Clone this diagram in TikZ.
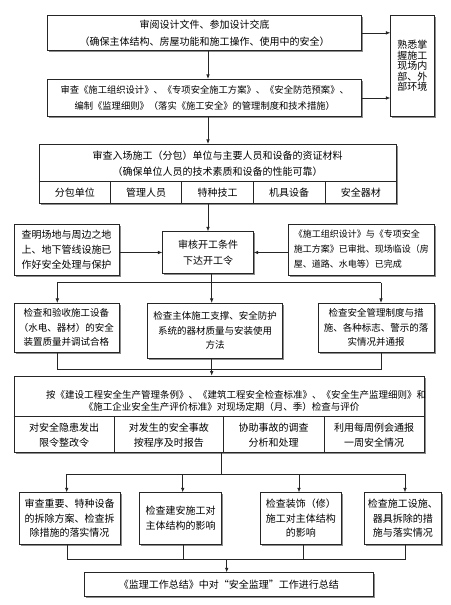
\documentclass[tikz,border=0pt]{standalone}
\usepackage{fontspec}
\newfontfamily\cjk{Noto Sans CJK SC}
\usetikzlibrary{shadows,arrows.meta}
\tikzset{
  box/.style={draw=black!85, line width=0.7pt, fill=white, inner sep=0pt, align=center,
    font=\cjk\fontsize{10}{15}\selectfont,
    drop shadow={shadow xshift=1.6pt, shadow yshift=-1.6pt, fill=black!45, opacity=1}},
  lbl/.style={inner sep=0pt, align=center, font=\cjk\fontsize{10}{15}\selectfont},
  line/.style={draw=black!85, line width=0.7pt},
  arr/.style={line, -{Latex[length=4.5pt,width=3.6pt]}}
}
\begin{document}
\begin{tikzpicture}[x=1pt,y=-1pt]
\useasboundingbox (0,0) rectangle (450,605);
\fill[white] (0,0) rectangle (450,605);

% row 1-2
\node[box, minimum width=314pt, minimum height=35.7pt, font=\cjk\fontsize{10}{17}\selectfont] (b1) at (204.7,32.85)
  {审阅设计文件、参加设计交底\\（确保主体结构、房屋功能和施工操作、使用中的安全）};
\node[box, minimum width=43.3pt, minimum height=101.7pt, font=\cjk\fontsize{10}{10.5}\selectfont] (env) at (412.35,65.85)
  {熟悉掌\\握施工\\现场内\\部、外\\部环境};
\node[box, minimum width=314pt, minimum height=37.4pt, font=\cjk\fontsize{9.3}{15.7}\selectfont] (b2) at (204.7,98)
  {审查《施工组织设计》、《专项安全施工方案》、《安全防范预案》、\\编制《监理细则》（落实《施工安全》的管理制度和技术措施）};

% row 3
\node[box, minimum width=357.7pt, minimum height=59pt] (b3) at (217.85,173.8) {};
\node[lbl, font=\cjk\fontsize{10}{16}\selectfont] (b3t) at (217.5,163.5)
  {审查入场施工（分包）单位与主要人员和设备的资证材料\\（确保单位人员的技术素质和设备的性能可靠）};
\draw[line] (b3.west |- 0,181.7) -- (b3.east |- 0,181.7);
\draw[line] (110.7,181.7) -- (110.7,181.7 |- b3.south);
\draw[line] (181.7,181.7) -- (181.7,181.7 |- b3.south);
\draw[line] (253.3,181.7) -- (253.3,181.7 |- b3.south);
\draw[line] (325,181.7) -- (325,181.7 |- b3.south);
\node[lbl] (c31) at (74.85,192.5) {分包单位};
\node[lbl] (c32) at (146.2,192.5) {管理人员};
\node[lbl] (c33) at (217.5,192.5) {特种技工};
\node[lbl] (c34) at (289.15,192.5) {机具设备};
\node[lbl] (c35) at (360.85,192.5) {安全器材};

% row 4
\node[box, minimum width=90.6pt, minimum height=41.6pt, font=\cjk\fontsize{10}{16.5}\selectfont] (c4) at (208,252.5)
  {审核开工条件\\下达开工令};
\node[box, minimum width=105pt, minimum height=50.7pt] (l4) at (66.5,249.65)
  {查明场地与周边之地\\上、地下管线设施已\\作好安全处理与保护};
\node[box, minimum width=145.3pt, minimum height=50.7pt, font=\cjk\fontsize{9}{15}\selectfont] (r4) at (361.35,249.65)
  {\begin{tabular}{@{}l@{}}《施工组织设计》与《专项安全\\施工方案》已审批、现场临设（房\\屋、道路、水电等）已完成\end{tabular}};

% row 5
\node[box, minimum width=105pt, minimum height=49pt, font=\cjk\fontsize{9.5}{14.5}\selectfont] (p1) at (66.5,327.8)
  {检查和验收施工设备\\（水电、器材）的安全\\装置质量并调试合格};
\node[box, minimum width=135pt, minimum height=54.7pt, font=\cjk\fontsize{9.5}{14.5}\selectfont] (p2) at (215.2,330.65)
  {检查主体施工支撑、安全防护\\系统的器材质量与安装使用\\方法};
\node[box, minimum width=116pt, minimum height=49pt, font=\cjk\fontsize{9.5}{14.5}\selectfont] (p3) at (376,327.8)
  {检查安全管理制度与措\\施、各种标志、警示的落\\实情况并通报};

% row 6
\node[box, minimum width=410.3pt, minimum height=76.3pt] (b6) at (219.15,414.15) {};
\node[lbl, font=\cjk\fontsize{9.5}{12}\selectfont] (b6t1) at (236,395)
  {按《建设工程安全生产管理条例》、《建筑工程安全检查标准》、《安全生产监理细则》和};
\node[lbl, font=\cjk\fontsize{9.5}{12}\selectfont] (b6t2) at (221.5,407)
  {《施工企业安全生产评价标准》对现场定期（月、季）检查与评价};
\draw[line] (b6.west |- 0,416) -- (b6.east |- 0,416);
\draw[line] (114.3,416) -- (114.3,416 |- b6.south);
\draw[line] (223.3,416) -- (223.3,416 |- b6.south);
\draw[line] (324,416) -- (324,416 |- b6.south);
\node[lbl] (c61) at (64.15,435) {对安全隐患发出\\限令整改令};
\node[lbl] (c62) at (168.8,435) {对发生的安全事故\\按程序及时报告};
\node[lbl] (c63) at (273.65,435) {协助事故的调查\\分析和处理};
\node[lbl] (c64) at (374.15,435) {利用每周例会通报\\一周安全情况};

% row 7
\node[box, minimum width=101pt, minimum height=51.3pt, font=\cjk\fontsize{10}{14.7}\selectfont] (q1) at (69.5,518.35)
  {审查重要、特种设备\\的拆除方案、检查拆\\除措施的落实情况};
\node[box, minimum width=82.4pt, minimum height=51.3pt, font=\cjk\fontsize{10}{14.7}\selectfont] (q2) at (180.5,518.35)
  {检查建安施工对\\主体结构的影响};
\node[box, minimum width=81.7pt, minimum height=51.3pt, font=\cjk\fontsize{10}{14.7}\selectfont] (q3) at (300.85,518.35)
  {检查装饰（修）\\施工对主体结构\\的影响};
\node[box, minimum width=77.7pt, minimum height=51.3pt, font=\cjk\fontsize{10}{14.7}\selectfont] (q4) at (402.85,518.35)
  {检查施工设施、\\器具拆除的措\\施与落实情况};

% row 8
\node[box, minimum width=289pt, minimum height=24pt] (b7) at (228.8,584.7)
  {《监理工作总结》中对“安全监理”工作进行总结};

% connectors
\draw[arr] (b1.east) -- (b1.east -| env.west);
\draw[arr] (b2.east) -- (b2.east -| env.west);
\draw[arr] (b1.south -| 208,0) -- (b2.north -| 208,0);
\draw[arr] (b2.south -| 208,0) -- (b3.north -| 208,0);
\draw[arr] (b3.south -| c4.north) -- (c4.north);
\draw[arr] (l4.east |- c4.west) -- (c4.west);
\draw[arr] (r4.west |- c4.east) -- (c4.east);

\coordinate (s1) at (211.7,282.7);
\coordinate (s1l) at (57.3,282.7);
\coordinate (s1r) at (381,282.7);
\draw[line] (c4.south -| s1) -- (s1);
\draw[line] (s1l) -- (s1r);
\draw[arr] (s1l) -- (p1.north -| s1l);
\draw[arr] (s1) -- (p2.north -| s1);
\draw[arr] (s1r) -- (p3.north -| s1r);

\coordinate (m1l) at (57.3,369);
\coordinate (m1r) at (381,369);
\draw[line] (p1.south -| m1l) -- (m1l) -- (m1r) -- (p3.south -| m1r);
\draw[arr] (p2.south -| s1) -- (b6.north -| s1);

\coordinate (s2) at (221.7,474.3);
\coordinate (s2l) at (66.7,474.3);
\coordinate (s2b) at (182.7,474.3);
\coordinate (s2c) at (299,474.3);
\coordinate (s2r) at (405,474.3);
\draw[line] (b6.south -| s2) -- (s2);
\draw[line] (s2l) -- (s2r);
\draw[arr] (s2l) -- (q1.north -| s2l);
\draw[arr] (s2b) -- (q2.north -| s2b);
\draw[arr] (s2c) -- (q3.north -| s2c);
\draw[arr] (s2r) -- (q4.north -| s2r);

\coordinate (m2l) at (67.7,559.3);
\coordinate (m2b) at (183.3,559.3);
\coordinate (m2c) at (303.3,559.3);
\coordinate (m2r) at (405,559.3);
\coordinate (m2) at (226.7,559.3);
\draw[line] (q1.south -| m2l) -- (m2l) -- (m2r) -- (q4.south -| m2r);
\draw[line] (q2.south -| m2b) -- (m2b);
\draw[line] (q3.south -| m2c) -- (m2c);
\draw[arr] (m2) -- (b7.north -| m2);
\end{tikzpicture}
\end{document}
